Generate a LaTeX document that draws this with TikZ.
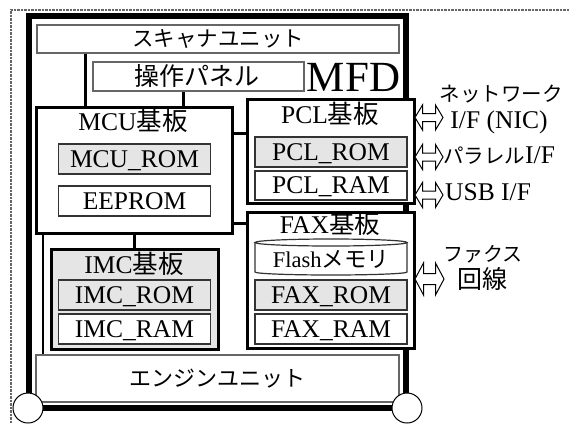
\documentclass[tikz,border=0pt]{standalone}
\usepackage{fontspec}
\setmainfont{Liberation Serif}
\newfontfamily\jp{Noto Sans CJK JP}
\usetikzlibrary{shapes.geometric}
\newcommand\fsz[1]{\fontsize{#1}{#1}\selectfont}
\tikzset{
  board/.style={draw, line width=3pt, fill=white, inner sep=0pt},
  mem/.style={draw=black!80, line width=1.2pt, fill=white, inner sep=0pt,
    minimum width=152pt, minimum height=30pt, font=\fsz{25.5},
    text height=16.8pt, text depth=0pt},
  rom/.style={mem, fill=black!10},
  unit/.style={draw=black!60, line width=1.5pt, fill=white, inner sep=0pt},
  conn/.style={line width=3pt},
  txt/.style={inner sep=0pt, font=\fsz{25.5}, text height=16.8pt, text depth=0pt},
  jtxt/.style={inner sep=0pt, font=\fsz{#1}\jp},
  pics/iarrow/.style n args={4}{code={
    % #1 half length, #2 head length, #3 half shaft, #4 half head
    \draw[line width=1pt, fill=white]
      (-#1,0) -- (-#1+#2,-#4) -- (-#1+#2,-#3) -- (#1-#2,-#3) -- (#1-#2,-#4)
      -- (#1,0) -- (#1-#2,#4) -- (#1-#2,#3) -- (-#1+#2,#3) -- (-#1+#2,#4) -- cycle;
  }},
}
\begin{document}
\begin{tikzpicture}[x=1pt,y=-1pt]
\useasboundingbox (0,0) rectangle (569,423);
% page border
\draw[black!60, line width=1.4pt, dash pattern=on 0.8pt off 0.6pt] (11,423) -- (11,10) -- (569,10);
% MFD outer frame
\node[draw, line width=5.5pt, minimum width=377pt, minimum height=392pt, inner sep=0pt] (mfd) at (217.5,212) {};
% units
\node[unit, minimum width=362pt, minimum height=28pt] (scan) at (218,39) {};
\node[jtxt=21.5] (scant) at (218,39) {スキャナユニット};
\node[unit, minimum width=211pt, minimum height=29pt] (panel) at (198.5,76.5) {};
\node[jtxt=25] (panelt) at (197,76.5) {操作パネル};
\node[inner sep=0pt, font=\fsz{43}, text height=28.5pt, text depth=0pt] (mfdt) at (353.5,77.5) {MFD};
\node[unit, minimum width=363pt, minimum height=47pt] (engine) at (217.5,378.5) {};
\node[jtxt=22] (enginet) at (217.5,378.5) {エンジンユニット};
% MCU board
\node[board, minimum width=196pt, minimum height=126pt] (mcu) at (134,170) {};
\node[txt] (mcut) at (133,122.5) {MCU{\jp 基板}};
\node[rom] (mcurom) at (134.5,159) {MCU\_ROM};
\node[mem] (eeprom) at (134.5,201) {EEPROM};
% PCL board
\node[board, minimum width=167pt, minimum height=104pt] (pcl) at (330.5,151) {};
\node[txt] (pclt) at (330,115.5) {PCL{\jp 基板}};
\node[rom] (pclrom) at (331,152) {PCL\_ROM};
\node[mem, minimum height=29pt] (pclram) at (331,185.5) {PCL\_RAM};
% FAX board
\node[board, minimum width=167pt, minimum height=136pt] (fax) at (330.5,280) {};
\node[txt] (faxt) at (330,225) {FAX{\jp 基板}};
\draw[draw=black!80, line width=1.2pt, fill=white]
  (255,242.5) -- (255,272) arc[start angle=180, end angle=360, x radius=76pt, y radius=3pt] -- (407,242.5);
\draw[draw=black!80, line width=1.2pt, fill=white] (331,242.5) ellipse [x radius=76pt, y radius=3.5pt];
\node[inner sep=0pt, font=\fsz{22.5}] (flash) at (331,259.5) {Flash{\jp メモリ}};
\node[rom] (faxrom) at (331,295) {FAX\_ROM};
\node[mem] (faxram) at (331,329) {FAX\_RAM};
% IMC board
\node[board, fill=black!10, minimum width=167pt, minimum height=100pt] (imc) at (134.5,299) {};
\node[txt] (imct) at (134,265) {IMC{\jp 基板}};
\node[rom] (imcrom) at (134.5,295) {IMC\_ROM};
\node[mem] (imcram) at (134.5,329) {IMC\_RAM};
% connectors
\coordinate (xa) at (85,0);
\coordinate (xb) at (183,0);
\coordinate (xc) at (43,0);
\coordinate (ya) at (0,133);
\coordinate (yb) at (0,223);
\draw[conn] (scan.south -| xa) -- (mcu.north -| xa);
\draw[conn] (panel.south -| xb) -- (mcu.north -| xb);
\draw[conn] (mcu.east |- ya) -- (pcl.west |- ya);
\draw[conn] (mcu.east |- yb) -- (fax.west |- yb);
\draw[conn] (mcu.south -| imc.north) -- (imc.north);
\draw[line width=2pt] (mcu.south -| xc) -- (engine.north -| xc);
% corner circles
\node[circle, draw, line width=1pt, fill=white, minimum size=30pt, inner sep=0pt] (cl) at (28,408) {};
\node[circle, draw, line width=1pt, fill=white, minimum size=30pt, inner sep=0pt] (cr) at (407,408) {};
% interfaces
\pic (anet) at (429,117.5) {iarrow={14}{7.5}{4}{12.5}};
\pic (apar) at (429,157) {iarrow={14}{7.5}{4}{12.5}};
\pic (ausb) at (429,195) {iarrow={14}{7.5}{4}{12.5}};
\pic (afax) at (429.5,279) {iarrow={14.5}{8.5}{5.5}{16}};
\node[jtxt=20.5] (lnet1) at (501,94) {ネットワーク};
\node[txt] (lnet2) at (499,120) {I/F (NIC)};
\node[txt, anchor=west] (lpar) at (443,155) {{\jp\fsz{20.5}パラレル}I/F};
\node[txt, anchor=west] (lusb) at (445,192) {USB I/F};
\node[jtxt=20] (lfax1) at (483,254) {ファクス};
\node[jtxt=25] (lfax2) at (482,279) {回線};
\end{tikzpicture}
\end{document}
